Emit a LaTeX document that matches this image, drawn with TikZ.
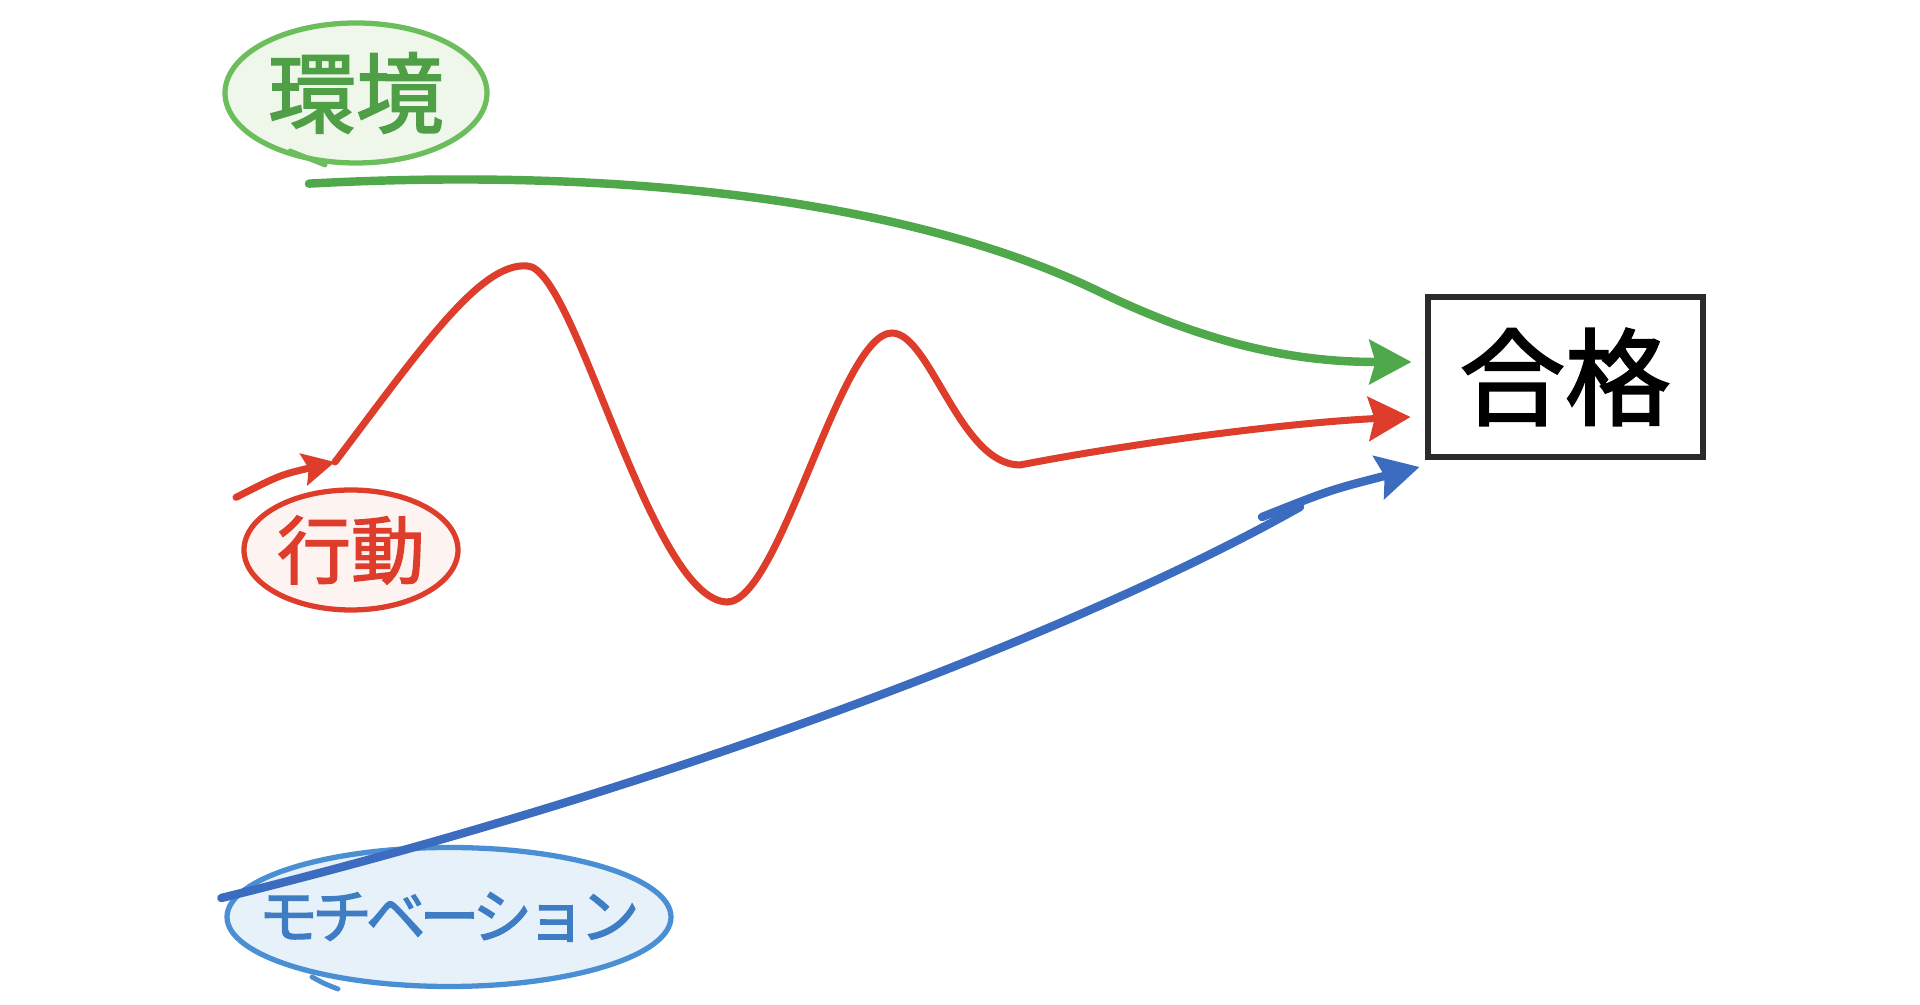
\documentclass[tikz,border=0pt]{standalone}
\usepackage{fontspec}
\usepackage{tikz}
\usepackage{xcolor}
\usetikzlibrary{arrows.meta,shapes.geometric}
\newfontfamily\jpfont{Noto Sans CJK JP}[FakeBold=2]
\newfontfamily\jpnarrow{Noto Sans CJK JP}[LetterSpace=-10,FakeBold=2]
\definecolor{envline}{HTML}{4FA84A}
\definecolor{envoval}{HTML}{6CBE5C}
\definecolor{envfill}{HTML}{EFF7EA}
\definecolor{envtext}{HTML}{4F9F47}
\definecolor{actred}{HTML}{DE3D2C}
\definecolor{actfill}{HTML}{FDF3F1}
\definecolor{motline}{HTML}{3B6CC0}
\definecolor{motoval}{HTML}{4A8FD4}
\definecolor{motfill}{HTML}{E6F1FA}
\definecolor{mottext}{HTML}{3E7CC4}
\definecolor{boxblack}{HTML}{2B2B2B}
\tikzset{
  label oval/.style={ellipse, line width=1.5pt, inner sep=0pt},
  pen/.style={line width=#1, line cap=round},
  headed/.style={-{Stealth[length=4.2mm,width=4.4mm,inset=0.6mm]}},
  small headed/.style={-{Stealth[length=3.2mm,width=3.2mm,inset=0.5mm]}}
}

\begin{document}
\begin{tikzpicture}[x=0.1mm,y=-0.1mm]
\useasboundingbox (0,0) rectangle (1920,1005);
% labels
\node[label oval, draw=envoval, fill=envfill, text=envtext, minimum width=2.62cm, minimum height=1.4cm]
  (env) at (356,93) {\jpfont\fontsize{25}{25}\selectfont 環境};
\node[label oval, draw=actred, fill=actfill, text=actred, minimum width=2.14cm, minimum height=1.2cm]
  (act) at (351,550) {\jpfont\fontsize{21}{21}\selectfont 行動};
\node[label oval, draw=motoval, fill=motfill, text=mottext, minimum width=4.44cm, minimum height=1.39cm]
  (mot) at (449,917) {\makebox[0pt]{\jpnarrow\fontsize{17}{17}\selectfont モチベーション}};
\draw[pen=1.4pt, envoval] (290,151) .. controls (305,157) .. (325,165);
\draw[pen=1.4pt, motoval] (312,977) .. controls (325,984) .. (338,989);
% goal
\node[draw=boxblack, line width=1.7pt, minimum width=2.75cm, minimum height=1.6cm]
  (goal) at (1565,377) {\jpfont\fontsize{30}{30}\selectfont 合格};
% end points
\coordinate (envstart) at ([shift={(-47,18)}]env.south);
\coordinate (actstart) at ([shift={(-115,10)}]act.north);
\coordinate (actmid) at (335,462);
\coordinate (motstart) at ([shift={(-3,-19)}]mot.west);
\coordinate (motmid) at (1300,507);
\coordinate (motkink) at (1262,517);
\coordinate (envtip) at ([shift={(-13,-15)}]goal.west);
\coordinate (acttip) at ([shift={(-14,40)}]goal.west);
\coordinate (mottip) at ([shift={(-5,90)}]goal.west);
% (i) environment
\draw[pen=2.4pt, envline, headed] (envstart) .. controls (600,168) and (900,195) .. (1100,292)
  .. controls (1230,355) and (1320,362) .. (envtip);
% (ii) action
\draw[pen=2pt, actred, small headed] (actstart) .. controls (280,475) .. (actmid);
\draw[pen=2pt, actred, headed] (actmid) .. controls (420,350) and (480,262) .. (527,266)
  .. controls (575,266) and (650,600) .. (727,602)
  .. controls (780,602) and (840,333) .. (892,333)
  .. controls (930,333) and (960,465) .. (1020,465)
  .. controls (1150,440) and (1300,422) .. (acttip);
% (iii) motivation
\draw[pen=2.4pt, motline] (motstart) .. controls (700,780) and (1100,620) .. (motmid);
\draw[pen=2.4pt, motline, headed] (motkink) .. controls (1330,490) .. (mottip);
\end{tikzpicture}
\end{document}
